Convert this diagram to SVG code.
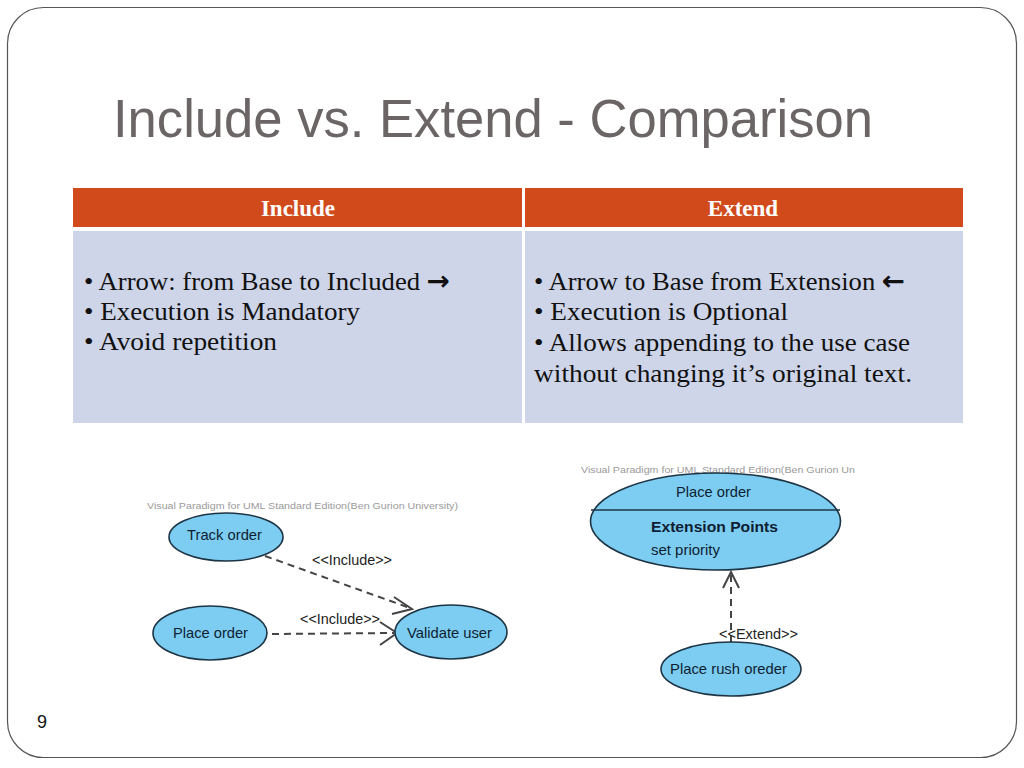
<svg xmlns="http://www.w3.org/2000/svg" width="1024" height="768" viewBox="0 0 1024 768">
<style>
.title{font-family:"Liberation Sans",Arial,sans-serif;font-size:53px;fill:#6b6566}
.hdr{font-family:"Liberation Serif","Times New Roman",serif;font-size:23px;font-weight:bold;fill:#ffffff}
.cell{font-family:"Liberation Serif","Times New Roman",serif;font-size:26px;fill:#111111}
.arr{font-family:"DejaVu Sans",sans-serif;font-weight:bold;font-size:27px}
.uc{fill:#7ccdf1;stroke:#1d3444;stroke-width:1.6}
.ut{font-family:"Liberation Sans",Arial,sans-serif;font-size:15px;fill:#0f1e33}
.lbl{font-family:"Liberation Sans",Arial,sans-serif;font-size:14px;fill:#222222}
.wm{font-family:"Liberation Sans",Arial,sans-serif;font-size:9.5px;fill:#9a9a9a}
.dash{fill:none;stroke:#444444;stroke-width:2;stroke-dasharray:7,5}
.head{fill:none;stroke:#444444;stroke-width:2}
</style>
<rect x="0" y="0" width="1024" height="768" fill="#ffffff"/>
<rect x="7.5" y="7.5" width="1009" height="750" rx="36" ry="36" fill="none" stroke="#555555" stroke-width="1.2"/>
<text class="title" x="113" y="137" textLength="760" lengthAdjust="spacingAndGlyphs">Include vs. Extend - Comparison</text>

<g id="table">
  <rect x="73" y="188" width="449" height="39" fill="#d14a1c"/>
  <rect x="525" y="188" width="438" height="39" fill="#d14a1c"/>
  <rect x="73" y="231" width="449" height="192" fill="#ced5e9"/>
  <rect x="525" y="231" width="438" height="192" fill="#ced5e9"/>
  <text class="hdr" x="298" y="216" text-anchor="middle">Include</text>
  <text class="hdr" x="743" y="216" text-anchor="middle">Extend</text>
  <text class="cell" x="84" y="290" textLength="366" lengthAdjust="spacingAndGlyphs">• Arrow: from Base to Included <tspan class="arr">→</tspan></text>
  <text class="cell" x="84" y="320" textLength="276" lengthAdjust="spacingAndGlyphs">• Execution is Mandatory</text>
  <text class="cell" x="84" y="350" textLength="193" lengthAdjust="spacingAndGlyphs">• Avoid repetition</text>
  <text class="cell" x="534" y="290" textLength="371" lengthAdjust="spacingAndGlyphs">• Arrow to Base from Extension <tspan class="arr">←</tspan></text>
  <text class="cell" x="534" y="320" textLength="254" lengthAdjust="spacingAndGlyphs">• Execution is Optional</text>
  <text class="cell" x="534" y="351" textLength="376" lengthAdjust="spacingAndGlyphs">• Allows appending to the use case</text>
  <text class="cell" x="534" y="382" textLength="378" lengthAdjust="spacingAndGlyphs">without changing it’s original text.</text>
</g>

<text class="wm" x="147" y="509" textLength="311" lengthAdjust="spacingAndGlyphs">Visual Paradigm for UML Standard Edition(Ben Gurion University)</text>
<text class="wm" x="581" y="473" textLength="274" lengthAdjust="spacingAndGlyphs">Visual Paradigm for UML Standard Edition(Ben Gurion Un</text>

<g id="connectors">
  <path class="dash" d="M265,556 L410,608"/>
  <path class="head" d="M394,597 L412,609 L392,614"/>
  <path class="dash" d="M272,634 L394,633"/>
  <path class="head" d="M380,622 L397,633 L380,645"/>
  <path class="dash" d="M731,642 L731,574"/>
  <path class="head" d="M723,588 L731,572 L739,588"/>
  <text class="lbl" x="312" y="565" textLength="80" lengthAdjust="spacingAndGlyphs">&lt;&lt;Include&gt;&gt;</text>
  <text class="lbl" x="300" y="624" textLength="80" lengthAdjust="spacingAndGlyphs">&lt;&lt;Include&gt;&gt;</text>
  <text class="lbl" x="719" y="639" textLength="79" lengthAdjust="spacingAndGlyphs">&lt;&lt;Extend&gt;&gt;</text>
</g>

<g id="track-order">
  <ellipse class="uc" cx="226" cy="537" rx="57" ry="24"/>
  <text class="ut" x="187" y="540" textLength="75" lengthAdjust="spacingAndGlyphs">Track order</text>
</g>
<g id="place-order-left">
  <ellipse class="uc" cx="210" cy="633" rx="57" ry="27"/>
  <text class="ut" x="173" y="638" textLength="75" lengthAdjust="spacingAndGlyphs">Place order</text>
</g>
<g id="validate-user">
  <ellipse class="uc" cx="451" cy="632" rx="56" ry="27"/>
  <text class="ut" x="407" y="638" textLength="85" lengthAdjust="spacingAndGlyphs">Validate user</text>
</g>
<g id="place-order-right">
  <ellipse class="uc" cx="715.5" cy="521.5" rx="125" ry="48.5"/>
  <line x1="591" y1="510" x2="840" y2="510" stroke="#1d3444" stroke-width="1.6"/>
  <text class="ut" x="676" y="497" textLength="75" lengthAdjust="spacingAndGlyphs">Place order</text>
  <text class="ut" x="651" y="532" font-weight="bold" textLength="127" lengthAdjust="spacingAndGlyphs">Extension Points</text>
  <text class="ut" x="651" y="555" textLength="69" lengthAdjust="spacingAndGlyphs">set priority</text>
</g>
<g id="place-rush-order">
  <ellipse class="uc" cx="731" cy="669" rx="70" ry="27"/>
  <text class="ut" x="670" y="674" textLength="117" lengthAdjust="spacingAndGlyphs">Place rush oreder</text>
</g>

<text x="37" y="728" font-family="Liberation Sans,Arial,sans-serif" font-size="18" fill="#111111">9</text>
</svg>
